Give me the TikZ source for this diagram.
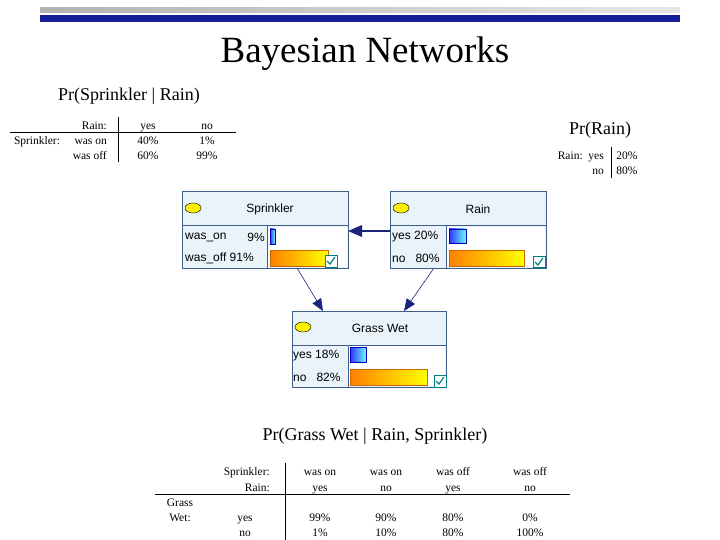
\documentclass[tikz,border=0pt]{standalone}
\usepackage{fontspec}
\setmainfont{Liberation Serif}
\newfontfamily\netfont{Liberation Sans}
\usetikzlibrary{arrows.meta}
\definecolor{navy}{HTML}{1A237E}
\definecolor{hdr}{HTML}{E9F3F9}
\definecolor{bord}{HTML}{3F5F8A}
\tikzset{
 tb/.style={font=\fontsize{11.5}{12}\selectfont, inner sep=0pt, anchor=base},
 tbr/.style={tb, anchor=base east},
 ttl/.style={font=\fontsize{18}{20}\selectfont, inner sep=0pt},
 nt/.style={font=\netfont\fontsize{12}{14}\selectfont, inner sep=0pt, anchor=west},
 nh/.style={font=\netfont\fontsize{12}{14}\selectfont, inner sep=0pt},
 box/.style={draw=bord, line width=1pt, fill=hdr},
 con/.style={draw=navy, line width=0.6pt, -{Triangle[length=12pt,width=10pt]}},
 blubar/.style={draw=blue!70!black, left color=blue!80, right color=cyan!60},
 orbar/.style={draw=orange!80!black, left color=orange, right color=yellow},
}
\begin{document}
\begin{tikzpicture}[x=1pt,y=-1pt]
\useasboundingbox (0,0) rectangle (720,540);
% top bars
\fill[left color=gray!60, right color=gray!20] (40,8) rectangle (680,13);
\fill[navy!80!blue] (40,15) rectangle (680,22);
\node[font=\fontsize{37}{40}\selectfont, inner sep=0pt] (title) at (365,54) {Bayesian Networks};
% table 1
\node[ttl] (t1) at (129,96) {Pr(Sprinkler | Rain)};
\draw (10,132) -- (236,132);
\draw (118,117) -- (118,162);
\node[tbr] (r1) at (107,130) {Rain:};
\node[tb] (y1) at (148,130) {yes};
\node[tb] (n1) at (207,130) {no};
\node[tb] (sp1) at (37,145) {Sprinkler:};
\node[tbr] (on1) at (107,145) {was on};
\node[tb] (a1) at (148,145) {40\%};
\node[tb] (b1) at (207,145) {1\%};
\node[tbr] (off1) at (107,160) {was off};
\node[tb] (a2) at (148,160) {60\%};
\node[tb] (b2) at (207,160) {99\%};
% Pr(Rain)
\node[ttl] (t2) at (600,130) {Pr(Rain)};
\draw (611,147) -- (611,178);
\node[tbr] (ry) at (604,160) {Rain:\ \ yes};
\node[tbr] (rn) at (604,175) {no};
\node[tb] (r20) at (627,160) {20\%};
\node[tb] (r80) at (627,175) {80\%};
% network: Sprinkler
\draw[box] (182,192) rectangle (348,268);
\draw[bord, line width=1pt] (182,226) -- (348,226) (267,226) -- (267,268);
\draw[fill=yellow, draw=black] (193,208) ellipse (8pt and 5pt);
\node[nh] (S) at (270,209) {Sprinkler};
\node[nt] at (185,237) {was\_on};
\node[nt, anchor=east] at (265,237) {9\%};
\node[nt] at (185,258) {was\_off 91\%};
\fill[white] (268,227) rectangle (347,267);
\draw[blubar] (270,229) rectangle (275,244);
\draw[orbar] (270,250) rectangle (328,266);
\draw[teal, fill=white] (325,255) rectangle (337,267);
\draw[teal, line width=1.2pt] (327,261) -- (330,264) -- (335,257);
% Rain
\draw[box] (390,192) rectangle (546,268);
\draw[bord, line width=1pt] (390,226) -- (546,226) (446,226) -- (446,268);
\draw[fill=yellow, draw=black] (401,208) ellipse (8pt and 5pt);
\node[nh] (R) at (478,209) {Rain};
\node[nt] at (392,237) {yes 20\%};
\node[nt] at (392,258) {no\ \ \ 80\%};
\fill[white] (447,227) rectangle (545,267);
\draw[blubar] (449,229) rectangle (466,243);
\draw[orbar] (449,250) rectangle (524,266);
\draw[teal, fill=white] (533,256) rectangle (545,267);
\draw[teal, line width=1.2pt] (535,262) -- (538,265) -- (543,258);
% Grass Wet
\draw[box] (292,311) rectangle (446,387);
\draw[bord, line width=1pt] (292,345) -- (446,345) (348,345) -- (348,387);
\draw[fill=yellow, draw=black] (303,327) ellipse (8pt and 5pt);
\node[nh] (G) at (380,328) {Grass Wet};
\node[nt] at (293,356) {yes 18\%};
\node[nt] at (293,377) {no\ \ \ 82\%};
\fill[white] (349,346) rectangle (445,386);
\draw[blubar] (350,347) rectangle (366,362);
\draw[orbar] (350,369) rectangle (427,385);
\draw[teal, fill=white] (434,375) rectangle (446,387);
\draw[teal, line width=1.2pt] (436,381) -- (439,384) -- (444,377);
% connectors
\coordinate (rl) at (390,231);
\coordinate (sr) at (348,231);
\coordinate (sb) at (297,268);
\coordinate (gt1) at (323,311);
\coordinate (rb) at (434,268);
\coordinate (gt2) at (404,311);
\draw[draw=navy, line width=2pt, -{Triangle[length=14pt,width=12pt,line width=0pt]}] (rl) -- (sr);
\draw[con] (sb) -- (gt1);
\draw[con] (rb) -- (gt2);
% table 3
\node[ttl] (t3) at (375,436) {Pr(Grass Wet | Rain, Sprinkler)};
\draw (155,494) -- (570,494);
\draw (285,463) -- (285,540);
\node[tbr] (s3) at (270,475) {Sprinkler:};
\node[tbr] (r3) at (270,491) {Rain:};
\node[tb] at (320,475) {was on};
\node[tb] at (386,475) {was on};
\node[tb] at (453,475) {was off};
\node[tb] at (530,475) {was off};
\node[tb] at (320,491) {yes};
\node[tb] at (386,491) {no};
\node[tb] at (453,491) {yes};
\node[tb] at (530,491) {no};
\node[tb] (gw) at (180,506) {Grass};
\node[tb] at (180,521) {Wet:};
\node[tb] at (245,521) {yes};
\node[tb] at (245,536) {no};
\node[tb] at (320,521) {99\%};
\node[tb] at (386,521) {90\%};
\node[tb] at (453,521) {80\%};
\node[tb] at (530,521) {0\%};
\node[tb] at (320,536) {1\%};
\node[tb] at (386,536) {10\%};
\node[tb] at (453,536) {80\%};
\node[tb] at (530,536) {100\%};
\end{tikzpicture}
\end{document}
